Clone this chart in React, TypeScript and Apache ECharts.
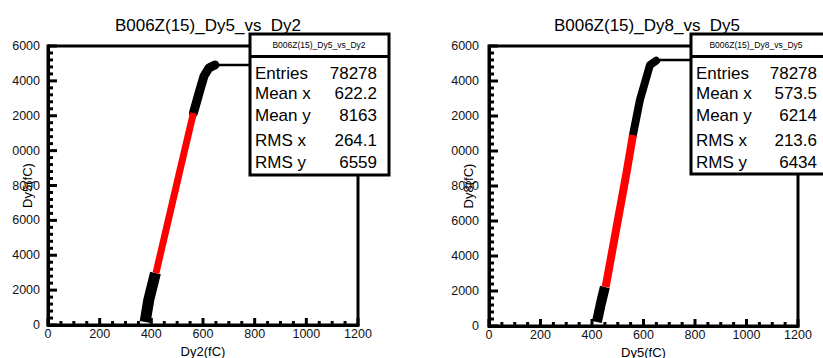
import React, { useEffect, useRef } from "react";
import * as echarts from "echarts";

// ---- data ----
const titles = ["B006Z(15)_Dy5_vs_Dy2", "B006Z(15)_Dy8_vs_Dy5"];
const xNames = ["Dy2(fC)", "Dy5(fC)"];
const yNames = ["Dy5(fC)", "Dy8(fC)"];
const xTickValues = [0, 200, 400, 600, 800, 1000, 1200];
const xTickLabels = ["0", "200", "400", "600", "800", "1000", "1200"];
const yTickValues = [0, 2000, 4000, 6000, 8000, 10000, 12000, 14000, 16000];
const yTickLabels = ["0", "2000", "4000", "6000", "8000", "0000", "2000", "4000", "6000"];
const xMinorSplit = 4;
const yMinorSplit = 5;

// panel 1 (Dy5 vs Dy2)
const p1Low = [[376, 172], [390, 1434], [416, 2982]];
const p1Red = [[418, 2982], [511, 8889], [563, 12158]];
const p1Top = [[563, 12158], [588, 13477], [604, 14280], [623, 14738], [646, 14910]];
const p1Plateau = [[640, 14910], [1200, 14910]];

// panel 2 (Dy8 vs Dy5)
const p2Low = [[419, 229], [435, 1314], [450, 2229]];
const p2Red = [[453, 2229], [536, 8914], [559, 10914]];
const p2Top = [[559, 10914], [586, 12914], [614, 14343], [625, 14914], [649, 15160]];
const p2Plateau = [[645, 15200], [1200, 15200]];

const statLabels = ["Entries", "Mean x", "Mean y", "RMS x", "RMS y"];
const stats1 = ["78278", "622.2", "8163", "264.1", "6559"];
const stats2 = ["78278", "573.5", "6214", "213.6", "6434"];

const FONT = "Liberation Sans, Arial, Helvetica, sans-serif";

function statBox(x: number, w: number, bottom: number, hx: number, title: string, vals: string[], valRight: number) {
  const rowY = [73, 93, 115, 140, 162];
  const Z = 100;
  const items: any[] = [
    { type: "rect", z: Z, shape: { x, y: 34, width: w, height: bottom - 34 }, style: { fill: "#fff", stroke: "#000", lineWidth: 3 } },
    { type: "line", z: Z + 1, shape: { x1: x, y1: 56.5, x2: x + w, y2: 56.5 }, style: { stroke: "#000", lineWidth: 3 } },
    { type: "text", z: Z + 1, style: { text: title, x: hx, y: 45, textAlign: "center", textVerticalAlign: "middle", font: `8.5px ${FONT}`, fill: "#000" } },
  ];
  statLabels.forEach((l, i) => {
    items.push({ type: "text", z: Z + 1, style: { text: l, x: x + 5, y: rowY[i], textAlign: "left", textVerticalAlign: "middle", font: `17px ${FONT}`, fill: "#000" } });
    items.push({ type: "text", z: Z + 1, style: { text: vals[i], x: valRight, y: rowY[i], textAlign: "right", textVerticalAlign: "middle", font: `17px ${FONT}`, fill: "#000" } });
  });
  return items;
}

function xAxis(idx: number) {
  return {
    gridIndex: idx, type: "value", position: "bottom", min: 0, max: 1200, interval: 200,
    name: xNames[idx], nameLocation: "middle", nameGap: 20, nameMoveOverlap: false,
    nameTextStyle: { fontSize: 13, fontFamily: FONT, color: "#000" },
    axisLine: { show: true, onZero: false, lineStyle: { color: "#000", width: 3 } },
    axisTick: { show: false },
    splitLine: { show: false },
    axisLabel: { margin: 2, fontSize: 12.5, fontFamily: FONT, color: "#111", showMaxLabel: true, showMinLabel: true,
      formatter: (v: number) => xTickLabels[xTickValues.indexOf(v)] ?? "" },
  };
}

function yAxis(idx: number, margin: number) {
  return {
    gridIndex: idx, type: "value", position: "left", min: 0, max: 16000, interval: 2000,
    name: yNames[idx], nameLocation: "middle", nameGap: 14, nameMoveOverlap: false,
    nameTextStyle: { fontSize: 13, fontFamily: FONT, color: "#000" },
    axisLine: { show: true, onZero: false, lineStyle: { color: "#000", width: 3 } },
    axisTick: { show: false },
    splitLine: { show: false },
    axisLabel: { margin, fontSize: 12.5, fontFamily: FONT, color: "#111", showMaxLabel: true, showMinLabel: true,
      formatter: (v: number) => yTickLabels[yTickValues.indexOf(v)] ?? "" },
  };
}

// inward ROOT-style ticks, placed through the axes' own scales (api.coord)
function tickSeries(idx: number) {
  return {
    type: "custom", xAxisIndex: idx, yAxisIndex: idx, data: [[0, 0]], clip: false, silent: true, z: 60,
    renderItem: (_p: any, api: any) => {
      const children: any[] = [];
      const seg = (x1: number, y1: number, x2: number, y2: number) =>
        children.push({ type: "line", shape: { x1, y1, x2, y2 }, style: { stroke: "#000", lineWidth: 3 } });
      const origin = api.coord([0, 0]);
      const x0 = origin[0];
      const y0 = origin[1];
      xTickValues.forEach((v, i) => {
        const px = api.coord([v, 0])[0];
        seg(px, y0, px, y0 - 7);
        if (i < xTickValues.length - 1) {
          const step = (xTickValues[i + 1] - v) / xMinorSplit;
          for (let k = 1; k < xMinorSplit; k++) {
            const mx = api.coord([v + k * step, 0])[0];
            seg(mx, y0, mx, y0 - 4);
          }
        }
      });
      yTickValues.forEach((v, i) => {
        const py = api.coord([0, v])[1];
        seg(x0, py, x0 + 9, py);
        if (i < yTickValues.length - 1) {
          const step = (yTickValues[i + 1] - v) / yMinorSplit;
          for (let k = 1; k < yMinorSplit; k++) {
            const my = api.coord([0, v + k * step])[1];
            seg(x0, my, x0 + 5, my);
          }
        }
      });
      return { type: "group", children };
    },
  };
}

function line(idx: number, data: number[][], color: string, width: number, cap: string, z: number) {
  return {
    type: "line", xAxisIndex: idx, yAxisIndex: idx, data, showSymbol: false, symbol: "none", z,
    lineStyle: { color, width, cap, join: "round" }, silent: true,
  };
}

export default function App() {
  const ref = useRef<HTMLDivElement>(null);
  useEffect(() => {
    if (!ref.current) return;
    const chart = echarts.init(ref.current, undefined, { renderer: "svg" });
    chart.setOption({
      animation: false,
      backgroundColor: "#fff",
      title: [
        { text: titles[0], left: 203, top: 12, textAlign: "center", textStyle: { fontSize: 17, fontWeight: "normal", fontFamily: FONT, color: "#000" } },
        { text: titles[1], left: 642, top: 12, textAlign: "center", textStyle: { fontSize: 17, fontWeight: "normal", fontFamily: FONT, color: "#000" } },
      ],
      grid: [
        { left: 48, top: 46, width: 310, height: 279, show: false, containLabel: false, outerBoundsMode: "none" },
        { left: 489, top: 46, width: 309, height: 280, show: false, containLabel: false, outerBoundsMode: "none" },
      ],
      xAxis: [xAxis(0), xAxis(1)],
      yAxis: [yAxis(0, 8), yAxis(1, 10)],
      series: [
        line(0, p1Plateau, "#000", 2.5, "butt", 2),
        line(0, p1Low, "#000", 11, "butt", 3),
        line(0, p1Top, "#000", 9, "round", 3),
        line(0, p1Red, "#ff0000", 7, "butt", 4),
        line(1, p2Plateau, "#000", 2.5, "butt", 2),
        line(1, p2Low, "#000", 10, "butt", 3),
        line(1, p2Top, "#000", 8, "round", 3),
        line(1, p2Red, "#ff0000", 8, "butt", 4),
        tickSeries(0),
        tickSeries(1),
      ],
      graphic: [
        { type: "rect", z: 50, silent: true, shape: { x: 48, y: 46, width: 310, height: 279 }, style: { fill: "none", stroke: "#000", lineWidth: 3 } },
        { type: "rect", z: 50, silent: true, shape: { x: 489, y: 46, width: 309, height: 280 }, style: { fill: "none", stroke: "#000", lineWidth: 3 } },
        ...statBox(250, 139, 175, 319, titles[0], stats1, 377),
        ...statBox(691, 139, 174, 756, titles[1], stats2, 817),
      ],
    });
    return () => chart.dispose();
  }, []);
  return <div ref={ref} style={{ position: "absolute", left: 0, top: 0, width: 823, height: 358 }} />;
}
